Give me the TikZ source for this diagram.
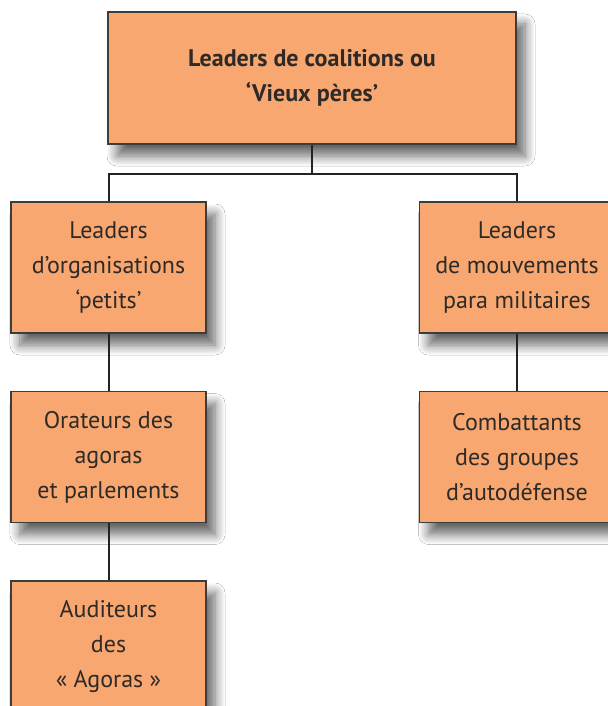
\documentclass[tikz,border=0pt]{standalone}
\usepackage{fontspec}
\setmainfont{PT Sans}
\usetikzlibrary{shadows, shadows.blur}
\definecolor{Boxcol}{RGB}{247, 167, 111}
\definecolor{Boxdraw}{RGB}{60, 60, 60}
\definecolor{Textcol}{RGB}{45, 42, 40}
\definecolor{Linkcol}{RGB}{35, 35, 35}

\begin{document}
\begin{tikzpicture}[
    x=0.5pt, y=-0.5pt,
    every node/.style={align=center},
    box/.style={
        rectangle, draw=Boxdraw, fill=Boxcol,
        line width=0.6pt, text=Textcol,
        minimum width=97.5pt, minimum height=65.5pt,
        inner sep=0pt, font=\fontsize{12}{17.5}\selectfont,
        blur shadow={shadow xshift=4.5pt, shadow yshift=-6pt,
            shadow blur radius=5pt, shadow blur steps=10,
            shadow opacity=60}
    },
    link/.style={line width=1pt, color=Linkcol}
]

    % cadre de l'image
    \clip (0,0) rectangle (608,706);
    \fill[white] (0,0) rectangle (608,706);

    % ------------------- BOITES -------------------

    % sommet
    \node[box, minimum width=204pt, minimum height=66pt,
          font=\fontsize{12}{17.5}\selectfont\bfseries] (coal) at (312,78)
        {Leaders de coalitions ou\\‘Vieux pères’};

    % colonne gauche
    \node[box] (orgs) at (108.5,267.5) {Leaders\\d’organisations\\‘petits’};
    \node[box] (orat) at (108.5,457) {Orateurs des\\agoras\\et parlements};
    \node[box] (audi) at (108.5,646.5) {Auditeurs\\des\\« Agoras »};

    % colonne droite
    \node[box] (mouv) at (517,267.5) {Leaders\\de mouvements\\para militaires};
    \node[box] (comb) at (517,457) {Combattants\\des groupes\\d’autodéfense};

    % ------------------- LIENS -------------------
    \coordinate (split) at (312,174);

    \draw[link] (coal.south) -- (split);
    \draw[link] (orgs.north) |- (split) -| (mouv.north);

    \draw[link] (orgs.south) -- (orat.north);
    \draw[link] (orat.south) -- (audi.north);
    \draw[link] (mouv.south) -- (comb.north);
\end{tikzpicture}
\end{document}
